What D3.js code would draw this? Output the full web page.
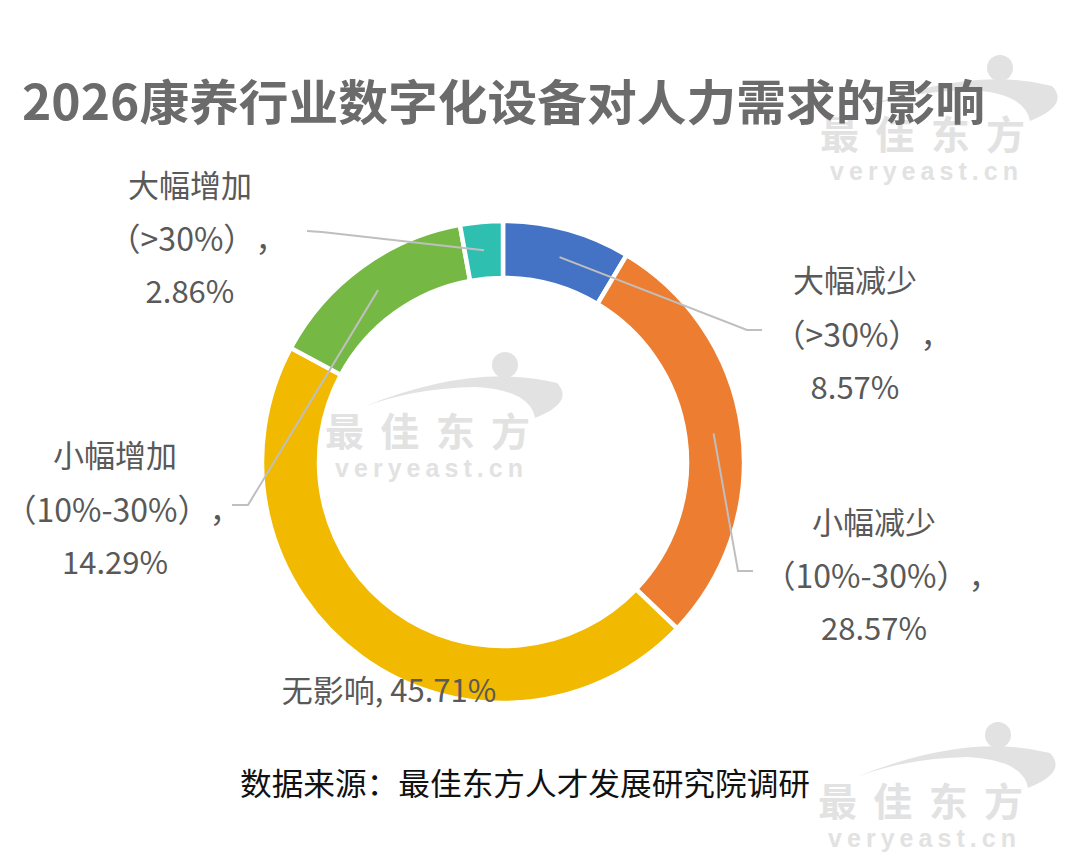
<!DOCTYPE html>
<html><head><meta charset="utf-8">
<script src="https://cdn.jsdelivr.net/npm/d3@7/dist/d3.min.js"></script>
<style>
html,body{margin:0;padding:0;background:#fff;}
svg{display:block;}
text{text-spacing-trim:space-all;}
</style></head>
<body>
<script>
const title = "2026康养行业数字化设备对人力需求的影响";
const source = "数据来源：最佳东方人才发展研究院调研";
const categories = ["大幅减少","小幅减少","无影响","小幅增加","大幅增加"];
const ranges = ["（>30%）","（10%-30%）","","（10%-30%）","（>30%）"];
const values = [8.57, 28.57, 45.71, 14.29, 2.86];
const colors = ["#4472C4","#ED7D31","#F1B900","#75B843","#2FBFB1"];

const W = 1080, H = 856;
const svg = d3.select("body").append("svg").attr("width", W).attr("height", H);
const font = "'Noto Sans CJK SC','Noto Sans',sans-serif";

// watermarks
function watermark(x, y) {
  const g = svg.append("g").attr("transform", `translate(${x},${y})`).attr("fill", "#e2e2e2");
  g.append("path").attr("d", "M38,-3 Q150,-48 232,-27 Q250,-8 210,8 Q205,-20 150,-23 Q90,-22 38,-3 Z");
  g.append("circle").attr("cx", 180).attr("cy", -45).attr("r", 13);
  g.append("text").attr("x", 0).attr("y", 19).attr("dominant-baseline", "central")
    .attr("font-family", font).attr("font-weight", 700).attr("font-size", 39)
    .attr("textLength", 205).attr("lengthAdjust", "spacing").text("最佳东方");
  g.append("text").attr("x", 10).attr("y", 58).attr("dominant-baseline", "central")
    .attr("font-family", "'Liberation Sans',Arial,sans-serif").attr("font-weight", 700).attr("font-size", 25)
    .attr("textLength", 188).attr("lengthAdjust", "spacing").text("veryeast.cn");
}
watermark(820, 113);
watermark(325, 410);
watermark(818, 780);

// title
svg.append("text").attr("x", 22).attr("y", 99).attr("dominant-baseline", "central")
  .attr("font-family", font).attr("font-weight", 700).attr("font-size", 48)
  .attr("fill", "#6b6b6b").attr("textLength", 963).attr("lengthAdjust", "spacingAndGlyphs")
  .text(title);

// donut
const cx = 503, cy = 462, rOuter = 241, rInner = 184;
const pie = d3.pie().sort(null).value(d => d);
const arcs = pie(values);
const arc = d3.arc().innerRadius(rInner).outerRadius(rOuter);
const g = svg.append("g").attr("transform", `translate(${cx},${cy})`);
g.selectAll("path.slice").data(arcs).join("path").attr("class", "slice")
  .attr("d", arc).attr("fill", (d, i) => colors[i])
  .attr("stroke", "#fff").attr("stroke-width", 4.5).attr("stroke-linejoin", "miter");

// labels layout (x center, line centers, leader elbow/end)
const mid = d3.arc().innerRadius((rInner + rOuter) / 2).outerRadius((rInner + rOuter) / 2);
const layout = [
  {x: 855, ys: [278, 333, 385], elbow: [747, 330], end: [762, 330]},
  {x: 874, ys: [520, 574, 626], elbow: [738, 571], end: [753, 571]},
  {x: 389, ys: [688]},
  {x: 115, ys: [453, 508, 560], elbow: [248, 505], end: [232, 505]},
  {x: 190, ys: [183, 237, 289], elbow: [322, 232], end: [307, 231]}
];

arcs.forEach((a, i) => {
  const L = layout[i];
  if (L.elbow) {
    const c = mid.centroid(a);
    const pts = [[cx + c[0], cy + c[1]], L.elbow, L.end];
    svg.append("path").attr("d", d3.line()(pts)).attr("fill", "none")
      .attr("stroke", "#BFBFBF").attr("stroke-width", 2);
  }
  const pct = values[i].toFixed(2) + "%";
  const lines = ranges[i] ? [categories[i], ranges[i] + "，", pct] : [categories[i] + ", " + pct];
  lines.forEach((t, j) => {
    const isRange = lines.length === 3 && j === 1;
    svg.append("text").attr("x", L.x + (isRange ? 8 : 0)).attr("y", L.ys[j]).attr("dominant-baseline", "central")
      .attr("text-anchor", "middle").attr("font-family", font).attr("font-size", isRange ? 32 : 31)
      .attr("fill", "#595959").text(t);
  });
});

// source
svg.append("text").attr("x", 240).attr("y", 781).attr("dominant-baseline", "central")
  .attr("font-family", font).attr("font-size", 31).attr("fill", "#111")
  .attr("textLength", 570).attr("lengthAdjust", "spacingAndGlyphs").text(source);
</script>
</body></html>
